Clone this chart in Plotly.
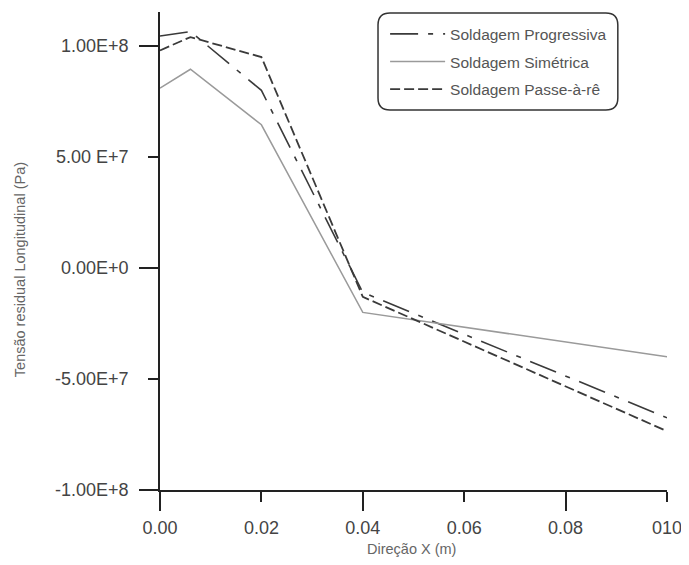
import plotly.graph_objects as go

x_pos = [0.0, 0.006, 0.02, 0.04, 0.10]
progressiva = [1.045e8, 1.065e8, 0.80e8, -0.11e8, -0.675e8]
simetrica = [0.81e8, 0.895e8, 0.645e8, -0.20e8, -0.40e8]
passe = [0.98e8, 1.04e8, 0.95e8, -0.13e8, -0.735e8]

x_ticks = [0.0, 0.02, 0.04, 0.06, 0.08, 0.10]
x_ticktext = ["0.00", "0.02", "0.04", "0.06", "0.08", "010"]
x_long = [0.0, 0.04, 0.08]
y_ticks = [-1e8, -5e7, 0, 5e7, 1e8]
y_ticktext = ["-1.00E+8", "-5.00E+7", "0.00E+0", "5.00 E+7", "1.00E+8"]
y_long = [-1e8, 0, 1e8]

FONT = "Liberation Sans, Arial, sans-serif"

fig = go.Figure()
fig.add_trace(go.Scatter(x=x_pos, y=progressiva, mode="lines", name="Soldagem Progressiva",
                         legendgroup="a",
                         line=dict(color="#3a3a3a", width=1.6, dash="28px,10px,5px,10px")))
fig.add_trace(go.Scatter(x=x_pos, y=simetrica, mode="lines", name="Soldagem Simétrica",
                         legendgroup="b",
                         line=dict(color="#9a9a9a", width=1.5)))
fig.add_trace(go.Scatter(x=x_pos, y=passe, mode="lines", name="Soldagem Passe-à-rê",
                         legendgroup="c",
                         line=dict(color="#3a3a3a", width=1.8, dash="10px,4px")))

# invisible trace to host the overlay axes (long ticks)
fig.add_trace(go.Scatter(x=[None], y=[None], xaxis="x2", yaxis="y2", showlegend=False, hoverinfo="skip"))

xr = [0, 0.1]
yr = [-1e8, 1.153e8]

fig.update_layout(
    width=689, height=565,
    paper_bgcolor="white", plot_bgcolor="white",
    margin=dict(l=152, r=30, t=4, b=83),
    font=dict(family=FONT, color="#333"),
    xaxis=dict(range=xr, tickvals=x_ticks, ticktext=x_ticktext, ticks="outside", ticklen=10,
               tickwidth=1.8, tickcolor="#222", showline=True, linecolor="#222", linewidth=1.8,
               showgrid=False, zeroline=False, automargin=False, ticklabelstandoff=10,
               tickfont=dict(size=18, color="#444")),
    yaxis=dict(range=yr, tickvals=y_ticks, ticktext=y_ticktext, ticks="outside", ticklen=10,
               tickwidth=1.8, tickcolor="#222", showline=True, linecolor="#222", linewidth=1.8,
               showgrid=False, zeroline=False, automargin=False, ticklabelstandoff=16,
               tickfont=dict(size=18, color="#444")),
    xaxis2=dict(overlaying="x", range=xr, tickvals=x_long, ticks="outside", ticklen=20,
                tickwidth=1.8, tickcolor="#222", showticklabels=False, showline=False,
                showgrid=False, zeroline=False, side="bottom", automargin=False),
    yaxis2=dict(overlaying="y", range=yr, tickvals=y_long, ticks="outside", ticklen=20,
                tickwidth=1.8, tickcolor="#222", showticklabels=False, showline=False,
                showgrid=False, zeroline=False, side="left", automargin=False),
    legend=dict(x=0.444, y=0.989, xanchor="left", yanchor="top", bgcolor="rgba(0,0,0,0)",
                borderwidth=0, itemwidth=55, font=dict(size=15.5, color="#555"),
                tracegroupgap=4.5),
    showlegend=True,
    annotations=[
        dict(text="Direção X (m)", xref="paper", yref="paper", x=0.497, y=-0.1234,
             xanchor="center", yanchor="middle", showarrow=False,
             font=dict(size=14.5, color="#666")),
        dict(text="Tensão residual Longitudinal (Pa)", xref="paper", yref="paper",
             x=-0.276, y=0.46, xanchor="center", yanchor="middle", textangle=-90,
             showarrow=False, font=dict(size=14.5, color="#666")),
    ],
)

# rounded legend frame
x0, x1 = 0.430, 0.903
y0, y1 = 0.795, 0.998
rx, ry = 12 / 507, 12 / 478
path = (f"M {x0+rx},{y1} L {x1-rx},{y1} Q {x1},{y1} {x1},{y1-ry} "
        f"L {x1},{y0+ry} Q {x1},{y0} {x1-rx},{y0} L {x0+rx},{y0} Q {x0},{y0} {x0},{y0+ry} "
        f"L {x0},{y1-ry} Q {x0},{y1} {x0+rx},{y1} Z")
fig.add_shape(type="path", xref="paper", yref="paper", path=path,
              line=dict(color="#333", width=1.5), fillcolor="rgba(0,0,0,0)")

fig.write_html("out.html")
